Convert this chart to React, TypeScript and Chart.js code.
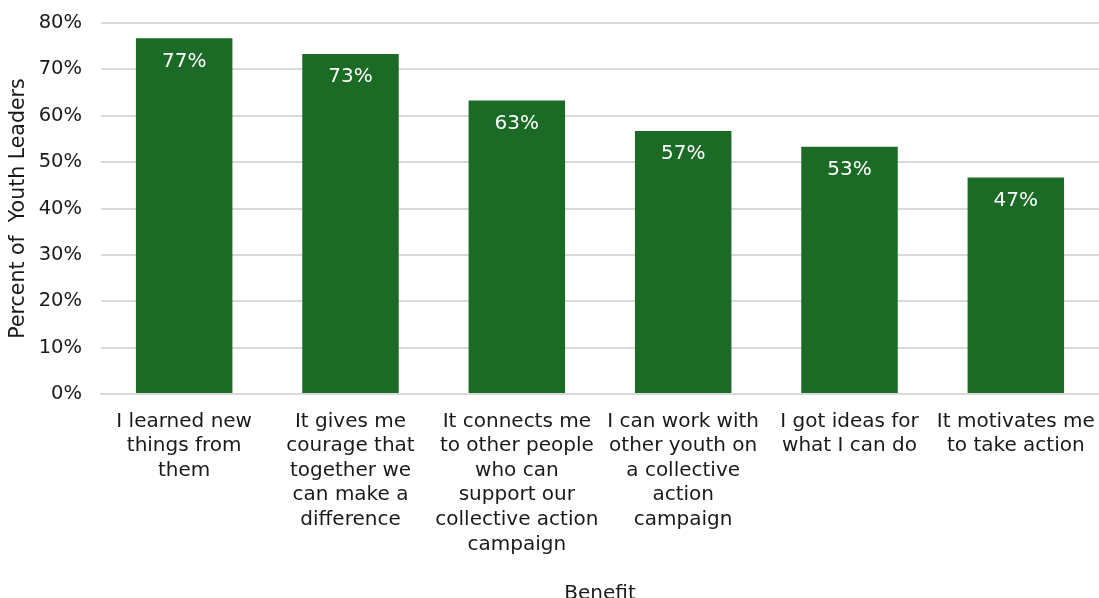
import React, { useEffect, useRef } from "react";
import { Chart, registerables } from "chart.js";

Chart.register(...registerables);

const categories: string[][] = [
  ["I learned new", "things from", "them"],
  ["It gives me", "courage that", "together we", "can make a", "difference"],
  ["It connects me", "to other people", "who can", "support our", "collective action", "campaign"],
  ["I can work with", "other youth on", "a collective", "action", "campaign"],
  ["I got ideas for", "what I can do"],
  ["It motivates me", "to take action"],
];
const values: number[] = [76.7, 73.3, 63.3, 56.7, 53.3, 46.7];
const yTicks: number[] = [0, 10, 20, 30, 40, 50, 60, 70, 80];
const yTitle = "Percent of  Youth Leaders";
const xTitle = "Benefit";

const FONT = "'DejaVu Sans', 'Noto Sans', sans-serif";
const BAR = "#1b6b26";
const TEXT = "#1a1a1a";

const labelPlugin = {
  id: "barLabels",
  afterDatasetsDraw(chart: any) {
    const ctx = chart.ctx;
    const meta = chart.getDatasetMeta(0);
    ctx.save();
    ctx.fillStyle = "#ffffff";
    ctx.font = `20px ${FONT}`;
    ctx.textAlign = "center";
    ctx.textBaseline = "middle";
    meta.data.forEach((bar: any, i: number) => {
      ctx.fillText(Math.round(values[i]) + "%", bar.x, bar.y + 23);
    });
    ctx.restore();
  },
};

export default function App() {
  const ref = useRef<HTMLCanvasElement>(null);
  useEffect(() => {
    if (!ref.current) return;
    const chart = new Chart(ref.current, {
      type: "bar",
      data: {
        labels: categories,
        datasets: [
          {
            data: values,
            backgroundColor: BAR,
            borderWidth: 0,
            barPercentage: 0.58,
            categoryPercentage: 1,
          },
        ],
      },
      options: {
        responsive: false,
        animation: false,
        maintainAspectRatio: false,
        layout: { padding: { top: 23, right: 0, left: 6, bottom: 0 } },
        plugins: { legend: { display: false }, tooltip: { enabled: false } },
        scales: {
          x: {
            grid: { display: false, drawTicks: false },
            border: { color: "#d9d9d9", width: 2 },
            ticks: {
              color: TEXT,
              font: { family: FONT, size: 20, lineHeight: 1.23 },
              maxRotation: 0,
              autoSkip: false,
              padding: 15,
            },
            title: {
              display: true,
              text: xTitle,
              color: TEXT,
              font: { family: FONT, size: 20 },
              padding: { top: 0, bottom: 0 },
            },
            afterFit: (scale: any) => {
              scale.height = 212;
              scale.paddingLeft = 0;
              scale.paddingRight = 0;
            },
          },
          y: {
            min: 0,
            max: 80,
            afterBuildTicks: (scale: any) => {
              scale.ticks = yTicks.map((v) => ({ value: v }));
            },
            grid: { color: "#d9d9d9", lineWidth: 2, drawTicks: true, tickLength: 19, tickColor: "rgba(0,0,0,0)" },
            border: { display: false },
            ticks: {
              color: TEXT,
              font: { family: FONT, size: 19.5 },
              padding: 0,
              callback: (v: any) => v + "%",
            },
            title: {
              display: true,
              text: yTitle,
              color: TEXT,
              font: { family: FONT, size: 20.5 },
              padding: { top: 0, bottom: 0 },
            },
            afterFit: (scale: any) => {
              scale.width = 95;
            },
          },
        },
      },
      plugins: [labelPlugin],
    });
    return () => chart.destroy();
  }, []);
  return (
    <div style={{ position: "fixed", left: 0, top: 0, width: 1099, height: 598, overflow: "hidden", background: "#fff" }}>
      <canvas ref={ref} width={1099} height={606} style={{ display: "block" }} />
    </div>
  );
}
